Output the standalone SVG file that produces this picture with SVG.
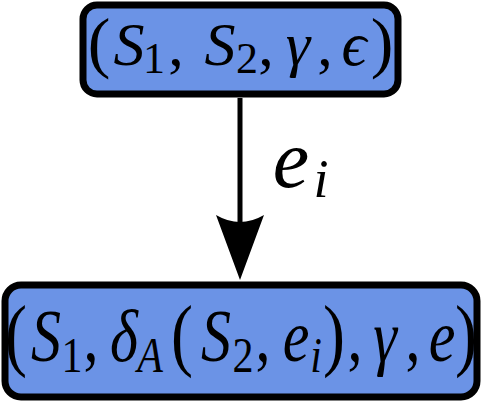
<svg xmlns="http://www.w3.org/2000/svg" width="482" height="406" viewBox="0 0 482 406">
<style>
.box{fill:#6b93e6;stroke:#000;stroke-width:7}
.m{fill:#000;font-family:'Liberation Serif','Times New Roman',serif;text-anchor:middle}
.i{font-style:italic}
.p{font-style:normal}
</style>
<defs>
<marker id="ah" markerUnits="userSpaceOnUse" markerWidth="70" markerHeight="60" viewBox="0 -30 70 60" refX="25" refY="0" orient="auto" overflow="visible">
<path d="M65,0 L0,-24 Q14,0 0,24 Z" fill="#000"/>
</marker>
</defs>
<rect width="482" height="406" fill="#fff"/>
<g id="connectors">
<line x1="240" y1="98" x2="240" y2="240" stroke="#000" stroke-width="5" marker-end="url(#ah)"/>
<text class="m i" x="291" y="187" font-size="82">e</text>
<text class="m i" x="321" y="197" font-size="54">i</text>
</g>
<g id="node-top">
<rect class="box" x="83" y="5" width="315" height="89" rx="14"/>
<text class="m" y="65" font-size="62">
<tspan class="p" x="99" font-size="68">(</tspan><tspan class="i" x="129">S</tspan><tspan class="p" x="154" y="73" font-size="44">1</tspan><tspan class="p" x="176" y="65">,</tspan><tspan class="i" x="220">S</tspan><tspan class="p" x="247" y="73" font-size="44">2</tspan><tspan class="p" x="266" y="65">,</tspan><tspan class="i" x="298">γ</tspan><tspan class="p" x="325">,</tspan><tspan class="i" x="354">ϵ</tspan><tspan class="p" x="382" font-size="68">)</tspan>
</text>
</g>
<g id="node-bottom">
<rect class="box" x="5" y="285" width="472" height="112" rx="16"/>
<text class="m" transform="matrix(1,0,0,1.23,0,361)" y="0" font-size="60">
<tspan class="p" x="16" font-size="66">(</tspan><tspan class="i" x="46">S</tspan><tspan class="p" x="72" y="9" font-size="42">1</tspan><tspan class="p" x="91" y="0">,</tspan><tspan class="i" x="124">δ</tspan><tspan class="i" x="150" y="9" font-size="42">A</tspan><tspan class="p" x="182" y="0" font-size="66">(</tspan><tspan class="i" x="216">S</tspan><tspan class="p" x="243" y="9" font-size="42">2</tspan><tspan class="p" x="263" y="0">,</tspan><tspan class="i" x="296">e</tspan><tspan class="i" x="316" y="9" font-size="42">i</tspan><tspan class="p" x="334" y="0" font-size="66">)</tspan><tspan class="p" x="355">,</tspan><tspan class="i" x="385">γ</tspan><tspan class="p" x="413">,</tspan><tspan class="i" x="442">e</tspan><tspan class="p" x="466" font-size="66">)</tspan>
</text>
</g>
</svg>
